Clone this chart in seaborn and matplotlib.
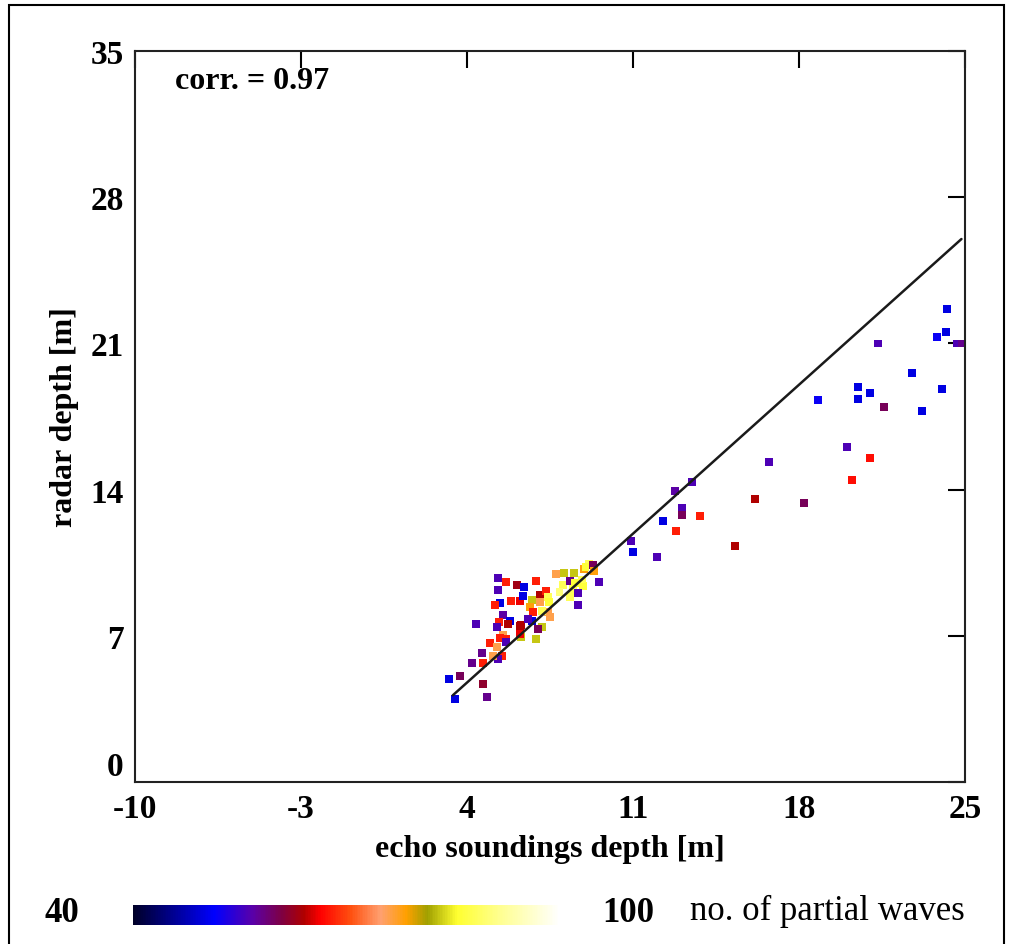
import numpy as np
import pandas as pd
import matplotlib
matplotlib.use("Agg")
import matplotlib.pyplot as plt
import seaborn as sns
from matplotlib.colors import LinearSegmentedColormap, Normalize
from matplotlib.patches import Rectangle

# echo soundings depth [m], radar depth [m], no. of partial waves
echo_depth = [
    24.24, 24.20, 23.82, 24.66, 24.87, 21.33, 22.77, 20.49, 21.00, 20.49,
    24.03, 18.80, 21.58, 23.19, 20.02, 21.00, 16.74, 20.24, 13.49, 16.15,
    18.21, 13.07, 13.07, 13.83, 15.30, 12.77, 12.27, 12.81, 10.92, 11.00,
    12.01, 5.31, 5.65, 6.11, 6.40, 5.31, 5.86, 6.23, 5.39, 5.18,
    5.52, 5.81, 5.35, 6.28, 4.38, 5.27, 4.97, 5.27, 4.63, 5.48,
    5.31, 4.21, 3.24, 3.70, 4.67, 3.49, 4.84, 6.91, 7.75, 8.09,
    8.51, 8.93, 9.15, 9.31, 9.36, 9.57, 8.05, 8.34, 8.47, 8.89,
    8.68, 8.34, 8.68, 6.36, 6.74, 7.08, 7.33, 7.42, 7.08, 6.66,
    6.78, 7.42, 7.50, 6.74, 6.57, 5.73, 6.23, 7.16, 6.99, 5.52,
    5.39, 5.65, 6.28, 6.91, 6.23, 5.65, 5.10, 4.67, 8.55, 7.16,
    7.45, 8.85, 9.00, 7.90,
]
radar_depth = [
    22.65, 21.55, 21.30, 21.00, 21.00, 21.00, 19.58, 18.91, 18.63, 18.34,
    18.82, 18.29, 17.95, 17.76, 16.04, 15.51, 15.32, 14.46, 14.36, 13.55,
    13.36, 13.12, 12.78, 12.74, 11.30, 13.93, 12.50, 12.02, 11.54, 11.01,
    10.77, 9.77, 9.58, 9.43, 9.34, 9.19, 8.67, 8.67, 8.57, 8.47,
    8.00, 7.71, 7.66, 7.52, 7.56, 7.42, 6.66, 6.46, 6.18, 6.03,
    5.89, 5.70, 4.93, 5.08, 4.69, 3.97, 4.07, 9.62, 9.96, 10.00,
    10.00, 10.20, 10.44, 10.39, 10.10, 9.58, 9.43, 9.62, 9.24, 9.38,
    9.05, 8.86, 8.47, 8.90, 8.71, 8.95, 9.14, 8.86, 8.62, 8.38,
    8.14, 8.14, 7.90, 7.71, 7.80, 7.56, 7.47, 7.42, 7.33, 7.04,
    6.89, 6.85, 6.94, 6.85, 7.09, 6.72, 6.03, 5.70, 9.55, 8.19,
    8.60, 9.70, 10.30, 9.10,
]
partial_waves = [
    50, 50, 52, 56, 58, 56, 50, 50, 50, 50,
    50, 52, 60, 50, 56, 67, 56, 67, 56, 64,
    60, 56, 60, 68, 64, 57, 50, 68, 56, 50,
    56, 56, 68, 63, 50, 56, 68, 66, 50, 68,
    57, 50, 68, 64, 56, 56, 68, 76, 58, 68,
    56, 58, 50, 60, 62, 50, 58, 68, 76, 83,
    83, 78, 88, 60, 78, 56, 88, 58, 88, 86,
    56, 88, 56, 50, 83, 64, 68, 88, 76, 78,
    68, 76, 76, 50, 56, 64, 64, 83, 60, 76,
    68, 68, 83, 83, 66, 56, 76, 68, 86, 88,
    86, 88, 86, 90,
]

# fit line end points
line_x = [3.4, 24.85]
line_y = [4.15, 26.0]

x_ticks = [-10, -3, 4, 11, 18, 25]
y_ticks = [0, 7, 14, 21, 28, 35]

df = pd.DataFrame({"echo": echo_depth, "radar": radar_depth, "waves": partial_waves})

cmap = LinearSegmentedColormap.from_list("waves", [
    (0.00, "#000028"), (0.19, "#0000ff"), (0.28, "#5a00a8"), (0.35, "#800040"),
    (0.40, "#b00000"), (0.44, "#ff0000"), (0.51, "#ff5010"), (0.58, "#ffa070"),
    (0.64, "#ffa000"), (0.69, "#a0a000"), (0.76, "#ffff30"), (0.86, "#ffff90"),
    (1.00, "#ffffff"),
])
norm = Normalize(40, 100)

sns.set_style("white")
plt.rcParams["font.family"] = ["Liberation Serif", "DejaVu Serif"]
plt.rcParams["axes.unicode_minus"] = False
plt.rcParams["text.color"] = "black"
plt.rcParams["axes.labelcolor"] = "black"

fig = plt.figure(figsize=(10.11, 9.45), dpi=100)
ax = fig.add_axes([0.1335, 0.1714, 0.821, 0.7735])

sns.scatterplot(data=df, x="echo", y="radar", hue="waves", palette=cmap,
                hue_norm=norm, marker="s", s=32, linewidth=0, legend=False, ax=ax)
ax.plot(line_x, line_y, color="#1a1a1a", lw=1.8)

ax.set_xlim(-10, 25)
ax.set_ylim(0, 35)
ax.set_xticks(x_ticks)
ax.set_yticks(y_ticks)
ax.tick_params(direction="in", length=12, width=1.5, top=True, right=True,
               labelsize=24, pad=8, colors="black")
for lab in ax.get_xticklabels() + ax.get_yticklabels():
    lab.set_fontweight("bold")
# the "0" sits just above the corner, as in the original
ax.yaxis.get_major_ticks()[0].label1.set_verticalalignment("bottom")
for sp in ax.spines.values():
    sp.set_linewidth(1.5)
    sp.set_color("#222222")

ax.set_xlabel("echo soundings depth [m]", fontsize=23, fontweight="bold", labelpad=7)
ax.set_ylabel("radar depth [m]", fontsize=23, fontweight="bold", labelpad=8)
ax.text(0.048, 0.96, "corr. = 0.97", transform=ax.transAxes, fontsize=23,
        fontweight="bold", va="center", ha="left")

# colour bar along the bottom
cax = fig.add_axes([133 / 1011, 1 - 926 / 945, (560 - 133) / 1011, 20 / 945])
cb = fig.colorbar(plt.cm.ScalarMappable(norm=norm, cmap=cmap), cax=cax,
                  orientation="horizontal")
cb.outline.set_visible(False)
cb.set_ticks([])
fig.text(62 / 1011, 1 - 914 / 945, "40", fontsize=25, fontweight="bold",
         ha="center", va="center")
fig.text(628 / 1011, 1 - 914 / 945, "100", fontsize=25, fontweight="bold",
         ha="center", va="center")
fig.text(690 / 1011, 1 - 911 / 945, "no. of partial waves", fontsize=25,
         ha="left", va="center")

# frame around the whole figure
fig.add_artist(Rectangle((9 / 1011, -0.05), (1004 - 9) / 1011, 1.05 - 6 / 945,
                         transform=fig.transFigure, fill=False, lw=1.5,
                         edgecolor="black", clip_on=False))

fig.savefig("out.png", dpi=100)
